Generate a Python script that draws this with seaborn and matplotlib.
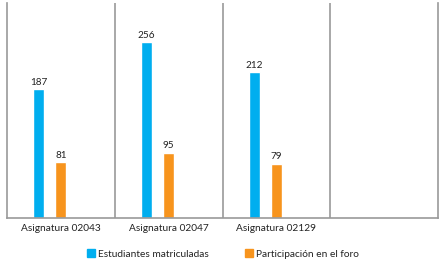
import matplotlib
matplotlib.use('Agg')
import matplotlib.pyplot as plt
import seaborn as sns
import pandas as pd
import numpy as np

# datos
asignaturas = ['Asignatura 02043', 'Asignatura 02047', 'Asignatura 02129']
matriculadas = [187, 256, 212]
participacion = [81, 95, 79]
series = ['Estudiantes matriculadas', 'Participación en el foro']
colores = ['#00AEEF', '#F7941D']

df = pd.DataFrame({
    'asignatura': asignaturas * 2,
    'serie': [series[0]] * 3 + [series[1]] * 3,
    'valor': matriculadas + participacion,
})

sns.set_style('white')
plt.rcParams['font.family'] = ['Lato', 'DejaVu Sans']

fig = plt.figure(figsize=(4.46, 2.68), dpi=100)
ax = fig.add_axes([7/446, 50/268, 431/446, 215/268])

# cuarta categoria vacia y tercera serie vacia (como en el grafico original)
orden = asignaturas + [' ']
sns.barplot(data=df, x='asignatura', y='valor', hue='serie',
            order=orden, hue_order=series + ['_vacia'],
            palette=colores + ['white'], width=0.61, gap=0.5,
            errorbar=None, saturation=1, ax=ax, legend=False)

for c in ax.containers:
    vals = [v for v in c.datavalues if not np.isnan(v)]
    if vals:
        ax.bar_label(c, fmt='%d', padding=1.5, fontsize=7.2, color='#222222')

ax.set_xlim(-0.5, 3.5)
ax.set_ylim(0, 312)
ax.set_yticks([])
ax.set_xlabel('')
ax.set_ylabel('')
ax.tick_params(axis='x', length=0, labelsize=7.3, colors='#222222', pad=4)

for x in [0.5, 1.5, 2.5]:
    ax.axvline(x, color='#999999', lw=1.2)
for s in ['left', 'right', 'bottom']:
    ax.spines[s].set_color('#999999')
    ax.spines[s].set_linewidth(1.2)
ax.spines['top'].set_visible(False)

handles = [plt.Rectangle((0, 0), 1, 1, color=c) for c in colores]
fig.legend(handles, series, loc='center', bbox_to_anchor=(0.5, 0.052), ncol=2,
           frameon=False, fontsize=7.3, handlelength=0.8, handleheight=0.8,
           handletextpad=0.35, columnspacing=3.5, labelcolor='#222222')

fig.savefig('out.png', dpi=100)
